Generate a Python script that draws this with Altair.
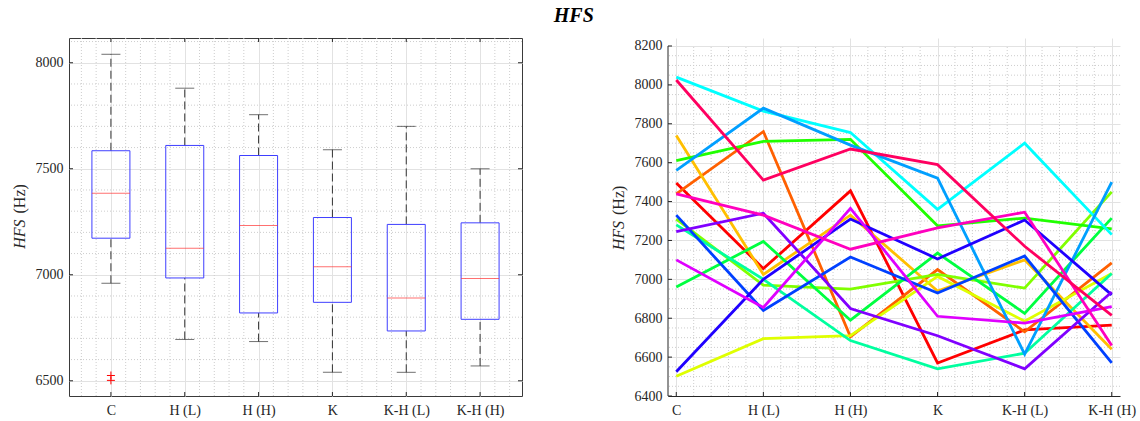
import json

import altair as alt
import numpy as np
import pandas as pd

conditions = ["C", "H (L)", "H (H)", "K", "K-H (L)", "K-H (H)"]

# HFS (Hz) of each participant, one value per condition (same order as above)
p01 = [7495, 7055, 7455, 6570, 6740, 6765]
p02 = [7440, 7760, 6705, 7050, 6730, 7085]
p03 = [7740, 7025, 7330, 6940, 7100, 6640]
p04 = [6502, 6695, 6710, 7015, 6785, 7030]
p05 = [7310, 6970, 6950, 7025, 6955, 7450]
p06 = [7610, 7710, 7720, 7275, 7315, 7260]
p07 = [6960, 7195, 6790, 7135, 6825, 7315]
p08 = [7280, 7000, 6685, 6540, 6620, 7030]
p09 = [8040, 7865, 7755, 7360, 7700, 7230]
p10 = [7560, 7880, 7690, 7520, 6615, 7500]
p11 = [7330, 6840, 7115, 6930, 7120, 6570]
p12 = [6525, 7000, 7310, 7105, 7305, 6920]
p13 = [7245, 7340, 6850, 6710, 6540, 6935]
p14 = [7100, 6855, 7365, 6810, 6775, 6860]
p15 = [7440, 7330, 7155, 7265, 7345, 6660]
p16 = [8025, 7510, 7670, 7590, 7170, 6815]
participants = [p01, p02, p03, p04, p05, p06, p07, p08,
                p09, p10, p11, p12, p13, p14, p15, p16]

# hsv(16) colour cycle, one colour per participant
line_colors = ["#ff0000", "#ff6000", "#ffbf00", "#dfff00", "#80ff00", "#20ff00",
               "#00ff40", "#00ff9f", "#00ffff", "#009fff", "#0040ff", "#2000ff",
               "#8000ff", "#df00ff", "#ff00bf", "#ff0060"]

SERIF = "Liberation Serif"
INK = "#262626"
GRID_MAJOR = "#e2e2e2"
GRID_MINOR = "#cdcdcd"

# long table for the spaghetti plot
rows = []
for i, vals in enumerate(participants):
    for j, v in enumerate(vals):
        rows.append({"subject": f"s{i + 1:02d}", "cond": j + 1, "hfs": v})
long_df = pd.DataFrame(rows)
subjects = [f"s{i + 1:02d}" for i in range(len(participants))]

# box statistics: midpoint-rule quartiles, whiskers at 1.5 IQR
stats, outliers = [], []
for j in range(len(conditions)):
    v = np.array([p[j] for p in participants], dtype=float)
    q1, med, q3 = np.percentile(v, [25, 50, 75], method="hazen")
    iqr = q3 - q1
    lo_f, hi_f = q1 - 1.5 * iqr, q3 + 1.5 * iqr
    inside = v[(v >= lo_f) & (v <= hi_f)]
    stats.append({"cond": j + 1, "q1": q1, "med": med, "q3": q3,
                  "lo": inside.min(), "hi": inside.max()})
    for o in v[(v < lo_f) | (v > hi_f)]:
        outliers.append({"cond": j + 1, "hfs": o})
box_df = pd.DataFrame(stats)
out_df = pd.DataFrame(outliers)

label_expr = f"{json.dumps(conditions)}[datum.value - 1]"
cond_ticks = list(range(1, len(conditions) + 1))
AXIS_TEXT = dict(labelFont=SERIF, labelFontSize=14, labelColor=INK, title=None, ticks=False)


def y_title(split):
    """Rotated 'HFS (Hz)' label: italic symbol, upright unit."""
    sym = alt.Chart(pd.DataFrame({"t": ["HFS"]})).mark_text(
        font=SERIF, fontSize=16, fontStyle="italic", angle=270, align="right",
        baseline="middle", color=INK).encode(text="t:N", x=alt.value(-49), y=alt.value(split + 3))
    unit = alt.Chart(pd.DataFrame({"t": ["(Hz)"]})).mark_text(
        font=SERIF, fontSize=16, angle=270, align="left",
        baseline="middle", color=INK).encode(text="t:N", x=alt.value(-49), y=alt.value(split - 3))
    return [sym, unit]


# ---------------------------------------------------------------- box plot
LW, LH = 453, 358
l_xscale = alt.Scale(domain=[0.5, 6.5], nice=False, zero=False)
l_yscale = alt.Scale(domain=[6428.25, 8116.75], nice=False, zero=False)
l_xaxis = alt.Axis(values=cond_ticks, labelExpr=label_expr, grid=True, domain=False,
                   labelPadding=7, **AXIS_TEXT)
l_yticks = [6500, 7000, 7500, 8000]
l_yaxis = alt.Axis(values=l_yticks, format="d", grid=True, domain=False,
                   labelPadding=6, **AXIS_TEXT)


def lx(field):
    return alt.X(field, type="quantitative", scale=l_xscale, axis=l_xaxis)


def ly(field):
    return alt.Y(field, type="quantitative", scale=l_yscale, axis=l_yaxis)


l_minor_x = pd.DataFrame({"v": [round(0.6 + 0.2 * k, 1) for k in range(30)
                                if abs(0.6 + 0.2 * k - round(0.6 + 0.2 * k)) > 1e-6]})
l_minor_y = pd.DataFrame({"v": [v for v in range(6500, 8101, 100) if v % 500]})

l_grid_v = alt.Chart(l_minor_x).mark_rule(color=GRID_MINOR, strokeDash=[1, 2]).encode(x=lx("v"))
l_grid_h = alt.Chart(l_minor_y).mark_rule(color=GRID_MINOR, strokeDash=[1, 2]).encode(y=ly("v"))

l_ytick_df = pd.DataFrame({"v": l_yticks})
l_xtick_df = pd.DataFrame({"v": cond_ticks})
l_ticks = [
    alt.Chart(l_ytick_df).mark_rule(color=INK).encode(y=ly("v"), x=alt.value(0), x2=alt.value(4)),
    alt.Chart(l_ytick_df).mark_rule(color=INK).encode(y=ly("v"), x=alt.value(LW - 4), x2=alt.value(LW)),
    alt.Chart(l_xtick_df).mark_rule(color=INK).encode(x=lx("v"), y=alt.value(0), y2=alt.value(4)),
    alt.Chart(l_xtick_df).mark_rule(color=INK).encode(x=lx("v"), y=alt.value(LH - 4), y2=alt.value(LH)),
]

whisk_up = alt.Chart(box_df).mark_rule(color="#333333", strokeDash=[8, 4]).encode(
    x=lx("cond"), y=ly("q3"), y2="hi")
whisk_lo = alt.Chart(box_df).mark_rule(color="#333333", strokeDash=[8, 4]).encode(
    x=lx("cond"), y=ly("lo"), y2="q1")
cap_hi = alt.Chart(box_df).mark_tick(orient="horizontal", size=19, thickness=1,
                                     color="#333333").encode(x=lx("cond"), y=ly("hi"))
cap_lo = alt.Chart(box_df).mark_tick(orient="horizontal", size=19, thickness=1,
                                     color="#333333").encode(x=lx("cond"), y=ly("lo"))
boxes = alt.Chart(box_df).mark_bar(size=38, fillOpacity=0, stroke="#3f3fff",
                                   strokeWidth=1).encode(x=lx("cond"), y=ly("q1"), y2="q3")
medians = alt.Chart(box_df).mark_tick(orient="horizontal", size=38, thickness=1,
                                      color="#ff3333").encode(x=lx("cond"), y=ly("med"))
outl = alt.Chart(out_df).mark_point(shape="M-1,0L1,0M0,-1L0,1", size=64, filled=False,
                                    color="#ff0000", strokeWidth=1, opacity=1).encode(
    x=lx("cond"), y=ly("hfs"))

left = alt.layer(l_grid_v, l_grid_h, *l_ticks, whisk_up, whisk_lo, cap_hi, cap_lo,
                 boxes, medians, outl, *y_title(178.5)).properties(
    width=LW, height=LH, view=alt.ViewBackground(stroke="#3a3a3a", strokeWidth=1))

# ---------------------------------------------------------- line plot
RW, RH = 452, 358
R_BOTTOM, R_TOP = 6400, 8200
r_xscale = alt.Scale(domain=[0.905, 6.095], nice=False, zero=False)
r_yscale = alt.Scale(domain=[R_BOTTOM, 8241.1], nice=False, zero=False)
r_yticks = list(range(R_BOTTOM, R_TOP + 1, 200))
r_xaxis = alt.Axis(values=cond_ticks, labelExpr=label_expr, grid=True, domain=True,
                   domainColor=INK, labelPadding=7, **AXIS_TEXT)
r_yaxis = alt.Axis(values=r_yticks, format="d", grid=True, domain=False,
                   labelPadding=6, **AXIS_TEXT)


def rx(field):
    return alt.X(field, type="quantitative", scale=r_xscale, axis=r_xaxis)


def ry(field):
    return alt.Y(field, type="quantitative", scale=r_yscale, axis=r_yaxis)


r_minor_x = pd.DataFrame({"v": [round(1 + 0.2 * k, 1) for k in range(26) if k % 5]})
r_minor_x["a"] = R_BOTTOM
r_minor_x["b"] = R_TOP
r_minor_y = pd.DataFrame({"v": [v for v in range(6450, R_TOP, 50) if v % 200]})

r_grid_v = alt.Chart(r_minor_x).mark_rule(color=GRID_MINOR, strokeDash=[1, 2]).encode(
    x=rx("v"), y=ry("a"), y2="b")
r_grid_h = alt.Chart(r_minor_y).mark_rule(color=GRID_MINOR, strokeDash=[1, 2]).encode(y=ry("v"))

r_ytick_df = pd.DataFrame({"v": r_yticks})
r_axis_line = alt.Chart(pd.DataFrame({"a": [R_BOTTOM], "b": [R_TOP]})).mark_rule(
    color=INK).encode(y=ry("a"), y2="b", x=alt.value(0))
r_ticks = [
    alt.Chart(r_ytick_df).mark_rule(color=INK).encode(y=ry("v"), x=alt.value(0), x2=alt.value(4)),
    alt.Chart(l_xtick_df).mark_rule(color=INK).encode(x=rx("v"), y=alt.value(RH - 4), y2=alt.value(RH)),
]

lines = alt.Chart(long_df).mark_line(strokeWidth=2.8).encode(
    x=rx("cond"), y=ry("hfs"),
    color=alt.Color("subject:N", scale=alt.Scale(domain=subjects, range=line_colors), legend=None),
    order=alt.Order("cond:Q"))

right = alt.layer(r_grid_v, r_grid_h, lines, r_axis_line, *r_ticks,
                  *y_title(180)).properties(
    width=RW, height=RH, view=alt.ViewBackground(stroke="transparent"))

chart = alt.hconcat(left, right, spacing=87).properties(
    title=alt.TitleParams("HFS", font=SERIF, fontSize=20, fontWeight="bold",
                          fontStyle="italic", anchor="middle", offset=11, color="#000000"),
    padding={"left": 11, "top": 6, "right": 0, "bottom": 0},
    background="#ffffff",
).configure(font=SERIF).configure_axis(
    labelFont=SERIF, labelFontSize=14, labelColor=INK, gridColor=GRID_MAJOR,
    gridWidth=1,
).configure_view(stroke="transparent")

chart.save("out.html", embed_options={"renderer": "svg", "actions": False})
